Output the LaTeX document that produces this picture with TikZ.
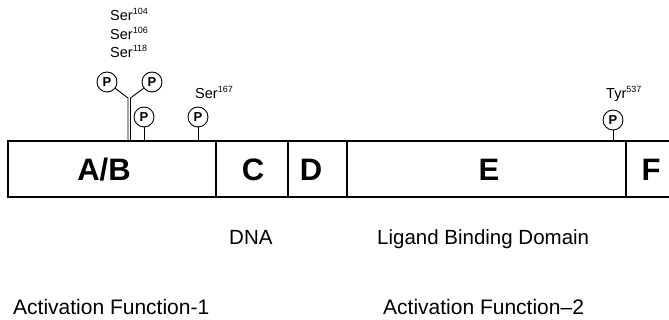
\documentclass[tikz,border=0pt]{standalone}
\usepackage{fontspec}
\setmainfont{Liberation Sans}
\newcommand{\sitesup}[1]{\raisebox{0.42em}{\fontsize{9}{9}\selectfont #1}}
\begin{document}
\begin{tikzpicture}[x=1pt,y=-1pt,
  boxline/.style={line width=1.4pt},
  stem/.style={line width=0.9pt},
  phos/.style={circle, draw, line width=0.9pt, minimum size=20pt, inner sep=0pt,
    font=\bfseries\fontsize{13}{13}\selectfont},
  regionletter/.style={font=\bfseries\fontsize{31}{31}\selectfont, inner sep=0pt},
  lbl/.style={font=\fontsize{20.5}{20.5}\selectfont, anchor=base west, inner sep=0pt},
  funclbl/.style={lbl, font=\fontsize{21}{21}\selectfont},
  site/.style={font=\fontsize{14.5}{14.5}\selectfont, anchor=base west, inner sep=0pt}]
\useasboundingbox (0,0) rectangle (669,320);

% receptor outline, open towards the right
\draw[boxline] (669,141) -- (8,141) -- (8,197) -- (669,197);
\foreach \xd in {216,288,347,626}
  \draw[boxline] (\xd,141) -- (\xd,197);

% domain letters
\node[regionletter] (ab) at (104,170) {A/B};
\node[regionletter] (c)  at (253,170) {C};
\node[regionletter] (d)  at (311,170) {D};
\node[regionletter] (e)  at (489,170) {E};
\node[regionletter] (f)  at (651,170) {F};

% phosphorylation sites
\node[phos] (p1) at (107,82)  {P};
\node[phos] (p2) at (152,82)  {P};
\node[phos] (p3) at (144,117) {P};
\node[phos] (p4) at (198,117) {P};
\node[phos] (p5) at (613,120) {P};

\coordinate (ja) at (128,98);
\coordinate (jb) at (130.5,98);
\coordinate (ba) at (128,141);
\coordinate (bb) at (130.5,141);
\coordinate (b3) at (144,141);
\coordinate (b4) at (198,141);
\coordinate (b5) at (613,141);

\draw[stem] (p1) -- (ja) -- (ba);
\draw[stem] (p2) -- (jb) -- (bb);
\draw[stem] (p3) -- (b3);
\draw[stem] (p4) -- (b4);
\draw[stem] (p5) -- (b5);

% residue labels
\node[site] (s104) at (110,21) {Ser\sitesup{104}};
\node[site] (s106) at (110,40) {Ser\sitesup{106}};
\node[site] (s118) at (110,58) {Ser\sitesup{118}};
\node[site] (s167) at (195,99) {Ser\sitesup{167}};
\node[site] (y537) at (606,99) {Tyr\sitesup{537}};

% functional regions
\node[lbl] (dna) at (229,245) {DNA};
\node[lbl] (lbd) at (377,245) {Ligand Binding Domain};
\node[funclbl] (af1) at (13,314) {Activation Function-1};
\node[funclbl] (af2) at (383,314) {Activation Function--2};
\end{tikzpicture}
\end{document}
